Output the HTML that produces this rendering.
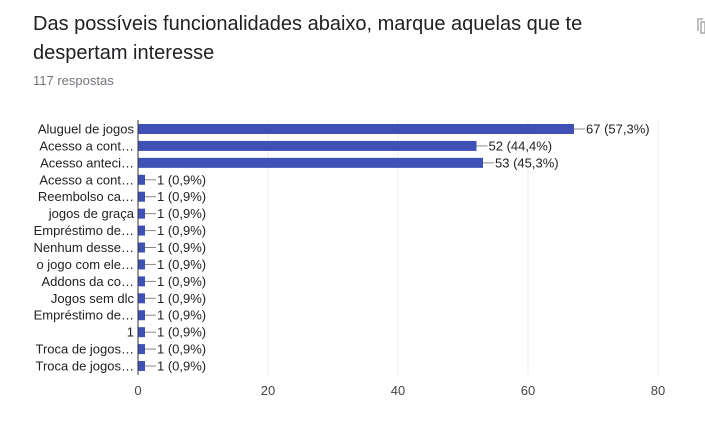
<!DOCTYPE html>
<html><head><meta charset="utf-8"><style>
body{margin:0;background:#fff;width:705px;height:429px;overflow:hidden;font-family:"Liberation Sans",Arial,sans-serif}
.title{position:absolute;left:33px;top:10px;font-size:20px;line-height:29px;color:#202124;width:620px}
.sub{position:absolute;left:33px;top:73px;font-size:13px;color:#70757a}
.copy{position:absolute;left:697px;top:17px;width:8px;height:18px}
</style></head><body>
<div class="title">Das possíveis funcionalidades abaixo, marque aquelas que te despertam interesse</div>
<div class="sub">117 respostas</div>
<svg class="copy" width="8" height="18"><path d="M6 2H1v12" fill="none" stroke="#aaa" stroke-width="1.5"/><path d="M4 5h4v11H4z" fill="none" stroke="#aaa" stroke-width="1.5"/></svg>
<svg id="chart" width="705" height="429" style="position:absolute;left:0;top:0"></svg>
<script>
const categories=["Aluguel de jogos","Acesso a cont…","Acesso anteci…","Acesso a cont…","Reembolso ca…","jogos de graça","Empréstimo de…","Nenhum desse…","o jogo com ele…","Addons da co…","Jogos sem dlc","Empréstimo de…","1","Troca de jogos…","Troca de jogos…"];
const values=[67,52,53,1,1,1,1,1,1,1,1,1,1,1,1];
const labels=["67 (57,3%)","52 (44,4%)","53 (45,3%)","1 (0,9%)","1 (0,9%)","1 (0,9%)","1 (0,9%)","1 (0,9%)","1 (0,9%)","1 (0,9%)","1 (0,9%)","1 (0,9%)","1 (0,9%)","1 (0,9%)","1 (0,9%)"];
const ticks=[0,20,40,60,80];
const svg=document.getElementById('chart');const NS='http://www.w3.org/2000/svg';
const x=v=>138+v*6.5;const y=i=>129+i*16.93;
function mk(t,a,txt){const e=document.createElementNS(NS,t);for(const k in a)e.setAttribute(k,a[k]);if(txt!=null)e.textContent=txt;svg.appendChild(e);return e;}
ticks.forEach(t=>{
const g=mk('line',{x1:x(t),x2:x(t),y1:120,y2:375,stroke:t===0?'#333':'#ececec','stroke-width':1});


const l=mk('text',{x:x(t),y:395,'text-anchor':'middle','font-size':13,fill:'#444'},t);


});
categories.forEach((c,i)=>{
const cy=y(i);
const t=mk('text',{x:134,y:cy+4.5,'text-anchor':'end','font-size':13,fill:'#222'},c);


const b=mk('rect',{x:x(0)+0.5,y:cy-5,width:x(values[i])-x(0),height:10,fill:'#3f51b5'});


const ex=x(values[i])+0.5;
const ln=mk('line',{x1:ex,x2:ex+11,y1:cy,y2:cy,stroke:'#888','stroke-width':1});


const v=mk('text',{x:ex+12,y:cy+4.5,'font-size':13,fill:'#222'},labels[i]);


});
</script>
</body></html>
